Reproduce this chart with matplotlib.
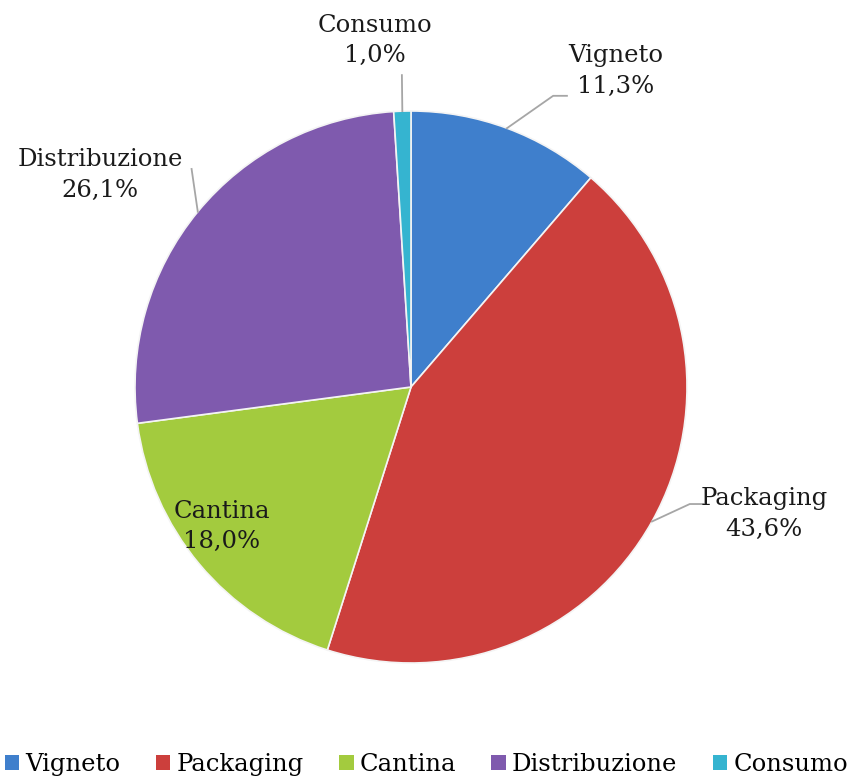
import numpy as np
import matplotlib.pyplot as plt
from matplotlib.patches import Patch

categorie = ["Vigneto", "Packaging", "Cantina", "Distribuzione", "Consumo"]
valori = [11.3, 43.6, 18.0, 26.1, 1.0]
etichette = ["11,3%", "43,6%", "18,0%", "26,1%", "1,0%"]

colori = ["#3F7FCC", "#CC3F3C", "#A3CB3E", "#7F5AAE", "#35B4D0"]
# posizione etichette (coordinate dati, raggio = 1) e gomito della linea guida
pos_testo = [(0.743, 1.145), (1.279, -0.460), (-0.685, -0.504), (-1.127, 0.768), (-0.130, 1.255)]
gomito = [(0.515, 1.055), (1.010, -0.424), None, (-0.795, 0.790), (-0.033, 1.130)]

plt.rcParams['font.family'] = ['DejaVu Serif']

fig = plt.figure(figsize=(8.58, 7.84), dpi=100)
cx, cy, r = 411, 387, 276
ax = fig.add_axes([(cx - r) / 858, (784 - cy - r) / 784, 2 * r / 858, 2 * r / 784])

wedges, _ = ax.pie(valori, colors=colori, startangle=90, counterclock=False, radius=1,
                   wedgeprops=dict(edgecolor="#f4f4f4", linewidth=1.2))
ax.set_xlim(-1, 1)
ax.set_ylim(-1, 1)
ax.set_aspect("equal")
ax.axis("off")

for w, cat, lab, (tx, ty), g in zip(wedges, categorie, etichette, pos_testo, gomito):
    ang = np.deg2rad((w.theta1 + w.theta2) / 2)
    ex, ey = np.cos(ang), np.sin(ang)
    if g is not None:
        xs = [ex, g[0]]
        ys = [ey, g[1]]
        if cat in ("Vigneto", "Packaging"):
            xs.append(g[0] + 0.05)
            ys.append(g[1])
        ax.plot(xs, ys, color="#a6a6a6", lw=1.3, clip_on=False, zorder=1)
    ax.text(tx, ty, cat + "\n" + lab, ha="center", va="center", fontsize=17.5,
            color="#1a1a1a", linespacing=1.4, clip_on=False)

handles = [Patch(facecolor=c, edgecolor="none") for c in colori]
fig.legend(handles, categorie, loc="center", bbox_to_anchor=(0.497, 0.025), ncol=5,
           frameon=False, fontsize=17.5, handlelength=0.6, handleheight=0.6,
           handletextpad=0.25, columnspacing=1.45)

fig.savefig("out.png", dpi=100)
